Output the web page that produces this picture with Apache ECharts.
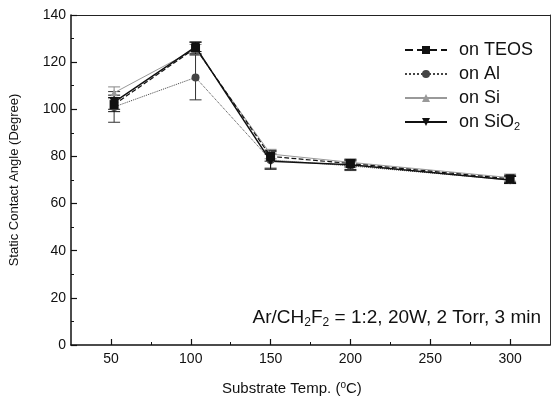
<!DOCTYPE html>
<html>
<head>
<meta charset="utf-8">
<script src="https://cdn.jsdelivr.net/npm/echarts@6/dist/echarts.min.js"></script>
<style>
  html, body { margin: 0; padding: 0; background: #fff; }
  #app { width: 551px; height: 407px; }
</style>
</head>
<body>
<div id="app"></div>
<script>
// substrate temperatures (°C)
const temps = [52, 103, 150, 200, 300];
const majorTicks = [50, 100, 150, 200, 250, 300];
const minorTicks = [75, 125, 175, 225, 275];

// static contact angle (degree) and error
const teos = [102, 126, 80, 77, 70.5];
const teosErr = [3, 2.5, 2, 1.5, 1.5];
const al = [101, 113.5, 78.5, 76, 70];
const alErr = [6.5, 9.5, 4, 2, 1.5];
const si = [107, 125.5, 81, 77.5, 71];
const siErr = [2.5, 2, 2, 1.5, 1.5];
const sio2 = [103, 126.5, 78, 76.5, 70];
const sio2Err = [3, 2, 3, 2, 1.5];

const font = 'Liberation Sans, Arial, sans-serif';
const chart = echarts.init(document.getElementById('app'), null, {renderer: 'canvas'});

const pairs = (ys) => temps.map((t, i) => [t, ys[i]]);
const errPairs = (ys, es) => temps.map((t, i) => [t, ys[i], es[i]]);

const errorBars = (ys, es, color) => ({
    type: 'custom',
    data: errPairs(ys, es),
    encode: {x: 0, y: 1},
    z: 3,
    silent: true,
    renderItem: (params, api) => {
        const x = api.value(0), y = api.value(1), e = api.value(2);
        const top = api.coord([x, y + e]);
        const bot = api.coord([x, y - e]);
        const w = 6;
        const style = {stroke: color, lineWidth: 1};
        return {
            type: 'group',
            children: [
                {type: 'line', shape: {x1: top[0], y1: top[1], x2: bot[0], y2: bot[1]}, style},
                {type: 'line', shape: {x1: top[0] - w, y1: top[1], x2: top[0] + w, y2: top[1]}, style},
                {type: 'line', shape: {x1: bot[0] - w, y1: bot[1], x2: bot[0] + w, y2: bot[1]}, style}
            ]
        };
    }
});

const lineSeries = (name, ys, color, type, width, symbol, size) => ({
    name,
    type: 'line',
    data: pairs(ys),
    symbol,
    symbolSize: size,
    itemStyle: {color},
    lineStyle: {color, type, width},
    z: 4,
    animation: false
});

const option = {
    animation: false,
    backgroundColor: '#fff',
    grid: {left: 67, right: 1, top: 15, bottom: 62},
    title: [
        {
            text: '{a|Ar/CH}{s|2}{a|F}{s|2}{a| = 1:2, 20W, 2 Torr, 3 min}',
            right: 5,
            top: 302,
            textStyle: {
                fontWeight: 'normal',
                rich: {
                    a: {fontSize: 19, fontFamily: font, color: '#111', fontWeight: 'normal'},
                    s: {fontSize: 12, fontFamily: font, color: '#111', fontWeight: 'normal', verticalAlign: 'bottom', padding: [10, 0, 0, 0]}
                }
            }
        },
        {
            text: '{a|Substrate Temp. (}{s|o}{a|C)}',
            left: 217,
            top: 375,
            textStyle: {
                fontWeight: 'normal',
                rich: {
                    a: {fontSize: 15, fontFamily: font, color: '#111', fontWeight: 'normal'},
                    s: {fontSize: 10, fontFamily: font, color: '#111', fontWeight: 'normal', verticalAlign: 'top', padding: [0, 0, 7, 0]}
                }
            }
        }
    ],
    legend: {
        orient: 'vertical',
        left: 399,
        top: 36,
        itemWidth: 42,
        itemHeight: 10,
        itemGap: 6,
        data: ['on TEOS', 'on Al', 'on Si', 'on SiO2'],
        formatter: (name) => name === 'on SiO2' ? '{a|on SiO}{s|2}' : '{a|' + name + '}',
        textStyle: {
            fontSize: 18,
            fontFamily: font,
            color: '#111',
            padding: [0, 0, 0, 7],
            rich: {
                a: {fontSize: 18, fontFamily: font, color: '#111'},
                s: {fontSize: 11, fontFamily: font, color: '#111', verticalAlign: 'bottom', padding: [9, 0, 0, 0]}
            }
        }
    },
    xAxis: [
        {
            type: 'value',
            min: 25,
            max: 325,
            position: 'bottom',
            axisLine: {show: true, lineStyle: {color: '#111', width: 1.5}},
            axisTick: {show: true, inside: true, length: 6, customValues: majorTicks, lineStyle: {color: '#111', width: 1.2}},
            axisLabel: {customValues: majorTicks, color: '#111', fontSize: 14, fontFamily: font, margin: 7},
            splitLine: {show: false}
        },
        {
            type: 'value',
            min: 25,
            max: 325,
            position: 'bottom',
            axisLine: {show: false},
            axisTick: {show: true, inside: true, length: 3, customValues: minorTicks, lineStyle: {color: '#111'}},
            axisLabel: {show: false},
            splitLine: {show: false}
        },
        {
            type: 'value',
            min: 25,
            max: 325,
            position: 'top',
            axisLine: {show: true, lineStyle: {color: '#222', width: 1}},
            axisTick: {show: false},
            axisLabel: {show: false},
            splitLine: {show: false}
        }
    ],
    yAxis: [
        {
            type: 'value',
            min: 0,
            max: 140,
            interval: 20,
            name: 'Static Contact Angle (Degree)',
            nameLocation: 'middle',
            nameGap: 50,
            nameTextStyle: {fontSize: 13, fontFamily: font, color: '#111'},
            axisLine: {show: true, lineStyle: {color: '#111', width: 1.5}},
            axisTick: {show: true, inside: true, length: 6, lineStyle: {color: '#111', width: 1.2}},
            minorTick: {show: true, splitNumber: 2, length: 3, lineStyle: {color: '#111'}},
            axisLabel: {color: '#111', fontSize: 14, fontFamily: font, margin: 5},
            splitLine: {show: false}
        },
        {
            type: 'value',
            min: 0,
            max: 140,
            position: 'right',
            axisLine: {show: true, lineStyle: {color: '#333', width: 1}},
            axisTick: {show: false},
            axisLabel: {show: false},
            splitLine: {show: false}
        }
    ],
    series: [
        errorBars(si, siErr, '#888'),
        errorBars(al, alErr, '#333'),
        errorBars(teos, teosErr, '#111'),
        errorBars(sio2, sio2Err, '#111'),
        lineSeries('on Si', si, '#999', 'solid', 1, 'triangle', 7),
        lineSeries('on Al', al, '#444', 'dotted', 1, 'circle', 8),
        lineSeries('on TEOS', teos, '#111', 'dashed', 1.2, 'rect', 9),
        lineSeries('on SiO2', sio2, '#111', 'solid', 1.5, 'path://M0,0 L10,0 L5,10 Z', 9)
    ]
};

chart.setOption(option);
</script>
</body>
</html>
